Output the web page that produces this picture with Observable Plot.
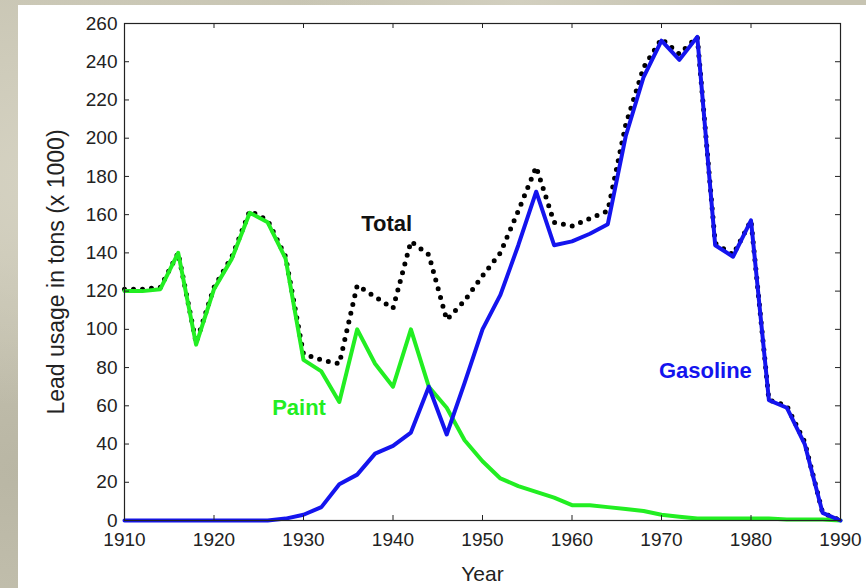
<!DOCTYPE html>
<html><head><meta charset="utf-8">
<script src="https://cdn.jsdelivr.net/npm/d3@7"></script>
<script src="https://cdn.jsdelivr.net/npm/@observablehq/plot@0.6"></script>
<style>
html,body{margin:0;padding:0;width:866px;height:588px;overflow:hidden;}
body{background:
 radial-gradient(ellipse at 10% 30%, #d6d3c3 0%, rgba(214,211,195,0) 40%),
 radial-gradient(ellipse at 3% 80%, #b9b6a4 0%, rgba(185,182,164,0) 35%),
 radial-gradient(ellipse at 60% 0%, #d2cfbf 0%, rgba(210,207,191,0) 30%),
 #c7c4b2;}
#panel{position:absolute;left:18px;top:5px;width:848px;height:583px;background:#fff;}
</style></head><body><div id="panel"></div><script>
const years = [1910,1912,1914,1916,1918,1920,1922,1924,1926,1928,1930,1932,1934,1936,1938,1940,1942,1944,1946,1948,1950,1952,1954,1956,1958,1960,1962,1964,1966,1968,1970,1972,1974,1976,1978,1980,1982,1984,1986,1988,1990];
const paint = [120,120,121,140,92,121,137,161,156,137,84,78,62,100,82,70,100,70,59,42,31,22,18,15,12,8,8,7,6,5,3,2,1,1,1,1,1,0.5,0.5,0.5,0];
const gasoline = [0,0,0,0,0,0,0,0,0,1,3,7,19,24,35,39,46,70,45,72,100,118,144,172,144,146,150,155,201,232,251,241,253,144,138,157,63,59,40,4,0];
const total = [121,121,122,140,93,122,138,162,157,138,87,84,82,123,117,111,146,139,105,115,128,140,162,185,156,154,158,162,207,237,252,244,253,145,139,157,63,60,41,4,0];
const xTicks = [1910,1920,1930,1940,1950,1960,1970,1980,1990];
const yTicks = [0,20,40,60,80,100,120,140,160,180,200,220,240,260];
const labelText = ["Total","Paint","Gasoline"];
const labelX = [1939.3,1929.5,1974.9];
const labelY = [155,59,78];
const labelColor = ["#111","#22ee22","#1414ee"];

const W = 848, H = 583, mL = 106, mR = 26, mT = 18, mB = 68;
const plotW = W - mL - mR, plotH = H - mT - mB;
const rows = arr => years.map((year, i) => ({year, v: arr[i]}));
const labels = labelText.map((t, i) => ({t, x: labelX[i], y: labelY[i], c: labelColor[i]}));
const ink = "#222";

const chart = Plot.plot({
  width: W, height: H,
  marginLeft: mL, marginRight: mR, marginTop: mT, marginBottom: mB,
  style: {fontFamily: "'Liberation Sans', Arial, sans-serif", background: "transparent", color: ink},
  x: {domain: [1910, 1990]},
  y: {domain: [0, 260]},
  marks: [
    Plot.line(rows(total), {x: "year", y: "v", stroke: "#000", strokeWidth: 5, strokeDasharray: "0,9", strokeLinecap: "round"}),
    Plot.line(rows(paint), {x: "year", y: "v", stroke: "#22ee22", strokeWidth: 4, strokeLinejoin: "round"}),
    Plot.line(rows(gasoline), {x: "year", y: "v", stroke: "#1414ee", strokeWidth: 4, strokeLinejoin: "round"}),
    Plot.frame({stroke: ink, strokeWidth: 1.2}),
    Plot.tickX(xTicks, {x: d => d, insetTop: plotH - 5, stroke: ink}),
    Plot.tickX(xTicks, {x: d => d, insetBottom: plotH - 5, stroke: ink}),
    Plot.tickY(yTicks, {y: d => d, insetRight: plotW - 5, stroke: ink}),
    Plot.tickY(yTicks, {y: d => d, insetLeft: plotW - 5, stroke: ink}),
    Plot.axisX(xTicks, {tickSize: 0, tickPadding: 12, fontSize: 19, tickFormat: d => String(d), label: null, fill: ink}),
    Plot.axisY(yTicks, {tickSize: 0, tickPadding: 7, fontSize: 19, tickFormat: d => String(d), label: null, fill: ink}),
    Plot.text(["Year"], {frameAnchor: "bottom", dy: 60, fontSize: 21, fill: ink}),
    Plot.text(["Lead usage in tons (x 1000)"], {frameAnchor: "left", textAnchor: "middle", rotate: -90, dx: -68, fontSize: 23, fill: ink}),
    Plot.text(labels, {x: "x", y: "y", text: "t", fill: "c", fontSize: 22, fontWeight: "bold"})
  ]
});
document.getElementById("panel").appendChild(chart);
</script></body></html>
